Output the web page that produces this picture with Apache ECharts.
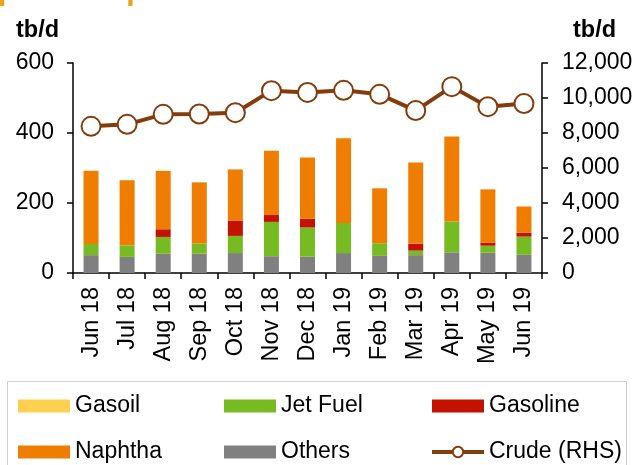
<!DOCTYPE html>
<html><head><meta charset="utf-8">
<script src="https://cdn.jsdelivr.net/npm/echarts@6/dist/echarts.min.js"></script>
<style>html,body{margin:0;padding:0;background:#fff}#c{width:638px;height:465px}</style>
</head><body><div id="c"></div>
<script>
var categories = ['Jun 18','Jul 18','Aug 18','Sep 18','Oct 18','Nov 18','Dec 18','Jan 19','Feb 19','Mar 19','Apr 19','May 19','Jun 19'];
var others   = [51, 46, 55, 55, 57, 48, 47, 57, 49, 51, 59, 58, 52];
var jetFuel  = [32, 33, 48, 29, 49, 98, 83, 86, 36, 13, 88, 20, 52];
var gasoline = [0, 0, 22, 0, 44, 20, 25, 0, 0, 20, 0, 9, 11];
var naphtha  = [209, 186, 167, 175, 146, 183, 175, 242, 157, 232, 243, 152, 75];
var gasoil   = [0, 0, 0, 0, 0, 0, 0, 0, 0, 0, 0, 0, 0];
var crude    = [8380, 8495, 9065, 9085, 9160, 10420, 10320, 10440, 10210, 9280, 10650, 9505, 9680];
var leftTicks = [0, 600, 200];
var rightTicks = [0, 12000, 2000];

var FONT = 'Liberation Sans, Arial, sans-serif';
var chart = echarts.init(document.getElementById('c'));
function bar(name, data, color) {
  return {name: name, type: 'bar', stack: 'a', data: data, barWidth: 15,
    itemStyle: {color: color}, emphasis: {disabled: true}};
}
var legendBase = {orient: 'vertical', itemWidth: 52, itemHeight: 13, itemGap: 20,
  textStyle: {fontFamily: FONT, fontSize: 23, color: '#000', lineHeight: 26},
  selectedMode: false, padding: 0};
chart.setOption({
  animation: false,
  textStyle: {fontFamily: FONT},
  grid: {left: 73, right: 96, top: 63, bottom: 192},
  graphic: [
    {type: 'text', left: -2, top: -23, style: {text: 'port composition', fill: '#E8A317', font: 'bold 30px ' + FONT}},
    {type: 'text', left: 16, top: 19, style: {text: 'tb/d', fill: '#000', font: 'bold 23.5px ' + FONT}},
    {type: 'text', left: 573, top: 19, style: {text: 'tb/d', fill: '#000', font: 'bold 23.5px ' + FONT}},
    {type: 'rect', shape: {x: 7.5, y: 381.5, width: 619, height: 100}, style: {fill: 'none', stroke: '#d0d0d0', lineWidth: 1}}
  ],
  legend: [
    Object.assign({left: 18, top: 393, data: [{name: 'Gasoil', icon: 'rect'}, {name: 'Naphtha', icon: 'rect'}]}, legendBase),
    Object.assign({left: 224, top: 393, data: [{name: 'Jet Fuel', icon: 'rect'}, {name: 'Others', icon: 'rect'}]}, legendBase),
    Object.assign({left: 430, top: 393, data: [{name: 'Gasoline', icon: 'rect'},
      {name: 'Crude (RHS)', lineStyle: {width: 4, color: '#843C0C'}}]}, legendBase)
  ],
  xAxis: {type: 'category', data: categories,
    axisLine: {lineStyle: {color: '#000', width: 1.5}},
    axisTick: {show: true, length: 6, lineStyle: {color: '#000', width: 1.5}},
    axisLabel: {rotate: 90, fontSize: 23.5, color: '#000', margin: 14, fontFamily: FONT}},
  yAxis: [
    {type: 'value', min: leftTicks[0], max: leftTicks[1], interval: leftTicks[2],
      axisLine: {show: true, lineStyle: {color: '#000', width: 1.5}},
      axisTick: {show: true, length: 6, lineStyle: {color: '#000', width: 1.5}},
      splitLine: {show: false},
      axisLabel: {fontSize: 23, color: '#000', margin: 19, fontFamily: FONT}},
    {type: 'value', min: rightTicks[0], max: rightTicks[1], interval: rightTicks[2],
      axisLine: {show: true, lineStyle: {color: '#000', width: 1.5}},
      axisTick: {show: true, length: 6, lineStyle: {color: '#000', width: 1.5}},
      splitLine: {show: false},
      axisLabel: {fontSize: 23, color: '#000', margin: 20, fontFamily: FONT,
        formatter: function (v) { return v.toLocaleString('en-US'); }}}
  ],
  series: [
    bar('Others', others, '#808080'),
    bar('Jet Fuel', jetFuel, '#77BB22'),
    bar('Gasoline', gasoline, '#C41200'),
    bar('Naphtha', naphtha, '#EE7D00'),
    bar('Gasoil', gasoil, '#FFD050'),
    {name: 'Crude (RHS)', type: 'line', yAxisIndex: 1, data: crude,
      symbol: 'circle', symbolSize: 19,
      lineStyle: {color: '#843C0C', width: 4},
      itemStyle: {color: '#fff', borderColor: '#843C0C', borderWidth: 2},
      emphasis: {disabled: true}}
  ]
});
</script></body></html>
